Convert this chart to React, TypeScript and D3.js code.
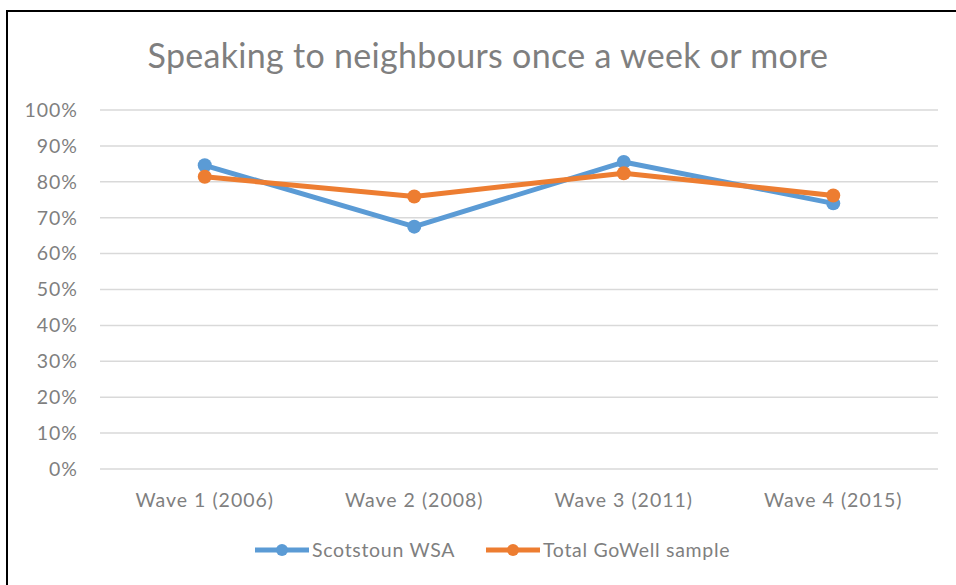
import React from "react";
import * as d3 from "d3";

const categories = ["Wave 1 (2006)", "Wave 2 (2008)", "Wave 3 (2011)", "Wave 4 (2015)"];
const scotstoun = [0.846, 0.675, 0.855, 0.74];
const gowell = [0.814, 0.759, 0.824, 0.762];
const yTicks = [0, 0.1, 0.2, 0.3, 0.4, 0.5, 0.6, 0.7, 0.8, 0.9, 1.0];
const seriesNames = ["Scotstoun WSA", "Total GoWell sample"];
const colors = ["#5B9BD5", "#ED7D31"];
const title = "Speaking to neighbours once a week or more";

const W = 956, H = 585;
const FONT = "Lato, 'Open Sans', sans-serif";

export default function App() {
  const x = d3.scaleBand<string>().domain(categories).range([100, 938]);
  const y = d3.scaleLinear().domain([0, 1]).range([469, 110]);
  const line = d3.line<number>()
    .x((_, i) => (x(categories[i]) as number) + x.bandwidth() / 2)
    .y((d) => y(d));
  const series = [scotstoun, gowell];
  const fmt = d3.format(".0%");
  return (
    <svg width={W} height={H} style={{ position: "absolute", left: 0, top: 0, background: "#fff" }}>
      <rect x={0} y={0} width={W} height={H} fill="#fff" />
      <path d={`M7,${H + 5} L7,11 L${W + 5},11`} fill="none" stroke="#000" strokeWidth={2} />
      <text x={488} y={68} textAnchor="middle" fontFamily={FONT} fontSize={34} letterSpacing={0.3} fill="#7F7F7F">{title}</text>
      {yTicks.map((t) => (
        <g key={t}>
          <line x1={100} x2={938} y1={y(t)} y2={y(t)} stroke="#D9D9D9" strokeWidth={1.5} />
          <text x={78} y={y(t)} dy="0.35em" textAnchor="end" fontFamily={FONT} fontSize={19.5} letterSpacing={1} fill="#7F7F7F">{fmt(t)}</text>
        </g>
      ))}
      {categories.map((c) => (
        <text key={c} x={(x(c) as number) + x.bandwidth() / 2} y={500} dy="0.35em" textAnchor="middle" fontFamily={FONT} fontSize={19.5} letterSpacing={1} fill="#7F7F7F">{c}</text>
      ))}
      {series.map((s, si) => (
        <g key={si}>
          <path d={line(s) || ""} fill="none" stroke={colors[si]} strokeWidth={5} strokeLinejoin="round" />
          {s.map((v, i) => (
            <circle key={i} cx={(x(categories[i]) as number) + x.bandwidth() / 2} cy={y(v)} r={7} fill={colors[si]} />
          ))}
        </g>
      ))}
      {seriesNames.map((n, si) => {
        const lx = si === 0 ? 255 : 486;
        return (
          <g key={n}>
            <line x1={lx} x2={lx + 54} y1={550} y2={550} stroke={colors[si]} strokeWidth={5} />
            <circle cx={lx + 27} cy={550} r={6} fill={colors[si]} />
            <text x={lx + 57} y={550} dy="0.35em" fontFamily={FONT} fontSize={19.5} letterSpacing={0.7} fill="#7F7F7F">{n}</text>
          </g>
        );
      })}
    </svg>
  );
}
